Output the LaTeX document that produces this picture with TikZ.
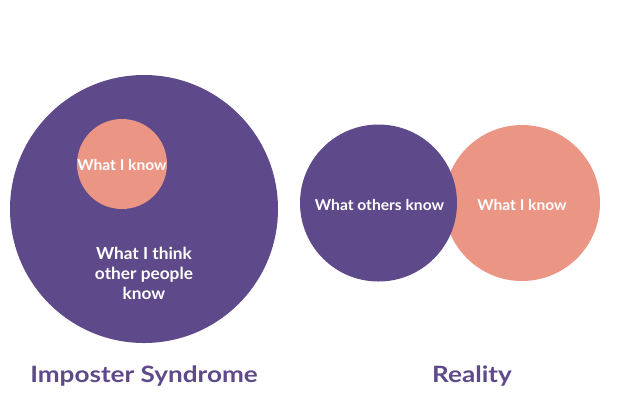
\documentclass[tikz,border=0pt]{standalone}
\usepackage{fontspec}
\setmainfont{Lato}
\newfontfamily\lblfont[FakeStretch=1.04]{Lato}
\newfontfamily\ttlfont[FakeStretch=1.16]{Lato}
\definecolor{ipurple}{RGB}{94,74,138}
\definecolor{isalmon}{RGB}{235,150,133}
\begin{document}
\begin{tikzpicture}[x=1pt,y=-1pt,
  disc/.style={circle,inner sep=0pt,minimum size=#1},
  lbl/.style={text=white,font=\lblfont\bfseries\fontsize{15}{18}\selectfont,inner sep=0pt,anchor=base},
  biglbl/.style={lbl,font=\lblfont\bfseries\fontsize{16.6}{20}\selectfont},
  ttl/.style={text=ipurple,font=\ttlfont\bfseries\fontsize{22.5}{26}\selectfont,inner sep=0pt,anchor=base}]
\useasboundingbox (0,0) rectangle (620,400);
\node[disc=268pt,fill=ipurple] (big) at (144,209) {};
\node[disc=90pt,fill=isalmon] (small) at (122,164) {};
\node[lbl] (smalltxt) at (122,170) {What I know};
\node[biglbl] (bigtxt) at (144,259) {What I think};
\node[biglbl] (bigtxt2) at (144,279) {other people};
\node[biglbl] (bigtxt3) at (144,299) {know};
\node[disc=156pt,fill=isalmon] (mine) at (522,203) {};
\node[disc=157pt,fill=ipurple] (others) at (378.5,203) {};
\node[lbl] (otherstxt) at (379.5,210) {What others know};
\node[lbl] (minetxt) at (522,210) {What I know};
\node[ttl] (t1) at (144,382) {Imposter Syndrome};
\node[ttl] (t2) at (472,382) {Reality};
\end{tikzpicture}
\end{document}
